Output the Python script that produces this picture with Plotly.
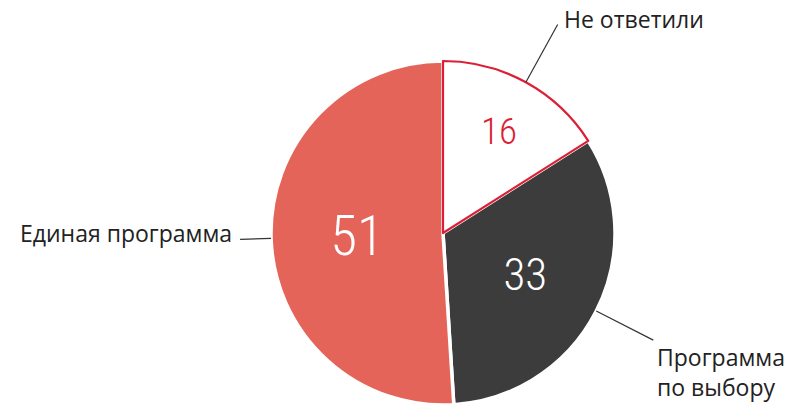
import math
import plotly.graph_objects as go

# ---- data ----
categories = ["Не ответили", "Программа по выбору", "Единая программа"]
label_text = ["Не ответили", "Программа<br>по выбору", "Единая программа"]
values = [16, 33, 51]

# ---- style ----
W, H = 789, 408
CX, CY, R = 443, 233, 172
slice_colors = ["#ffffff", "#3c3c3c", "#e5645a"]
number_colors = ["#dc1f36", "#ffffff", "#ffffff"]
number_sizes = [37, 45, 55]
line_colors = ["#dc1f36", "#ffffff", "#ffffff"]
line_widths = [2.2, 3.5, 3.5]
leader_outer = [238, 236, 203]

total = sum(values)
# draw order: the bordered (white) slice is drawn last so its border stays on top
order = [1, 2, 0]
start_frac = values[0] / total  # first drawn slice starts after "Не ответили"

fig = go.Figure()
fig.add_trace(go.Pie(
    labels=[categories[i] for i in order],
    values=[values[i] for i in order],
    sort=False,
    direction="clockwise",
    rotation=360 * start_frac,
    marker=dict(colors=[slice_colors[i] for i in order],
                line=dict(color=[line_colors[i] for i in order],
                          width=[line_widths[i] for i in order])),
    texttemplate="%{value}",
    textinfo="value",
    textposition="inside",
    insidetextorientation="horizontal",
    textfont=dict(family="Roboto Condensed, DejaVu Sans Condensed, Roboto",
                  weight=300,
                  color=[number_colors[i] for i in order],
                  size=[number_sizes[i] for i in order]),
    domain=dict(x=[(CX - R) / W, (CX + R) / W],
                y=[(H - CY - R) / H, (H - CY + R) / H]),
    showlegend=False,
    hoverinfo="label+value",
))

def px(x, y):
    return x / W, 1 - y / H

shapes, annotations = [], []
cum = 0
for i, v in enumerate(values):
    mid = 2 * math.pi * (cum + v / 2) / total
    cum += v
    sx, sy = CX + R * math.sin(mid), CY - R * math.cos(mid)
    ex, ey = CX + leader_outer[i] * math.sin(mid), CY - leader_outer[i] * math.cos(mid)
    x0, y0 = px(sx, sy)
    x1, y1 = px(ex, ey)
    shapes.append(dict(type="line", xref="paper", yref="paper", x0=x0, y0=y0, x1=x1, y1=y1,
                       line=dict(color="#333333", width=1.2)))
    if i == 0:
        annotations.append(dict(x=x1, y=y1, xref="paper", yref="paper", text=label_text[i],
                                showarrow=False, xanchor="left", yanchor="bottom",
                                xshift=4, yshift=-13))
    elif i == 1:
        annotations.append(dict(x=x1, y=y1, xref="paper", yref="paper", text=label_text[i],
                                showarrow=False, xanchor="left", yanchor="top", align="left",
                                xshift=2, yshift=1))
    else:
        annotations.append(dict(x=x1, y=y1, xref="paper", yref="paper", text=label_text[i],
                                showarrow=False, xanchor="right", yanchor="middle",
                                xshift=-6, yshift=6))

fig.update_layout(
    width=W, height=H,
    margin=dict(l=0, r=0, t=0, b=0),
    paper_bgcolor="white", plot_bgcolor="white",
    font=dict(family="Open Sans, Noto Sans, sans-serif", size=23, color="#222222"),
    shapes=shapes, annotations=annotations,
)
fig.write_html("out.html", config={"displayModeBar": False},
               post_script="document.body.style.margin='0';document.body.style.overflow='hidden';")
